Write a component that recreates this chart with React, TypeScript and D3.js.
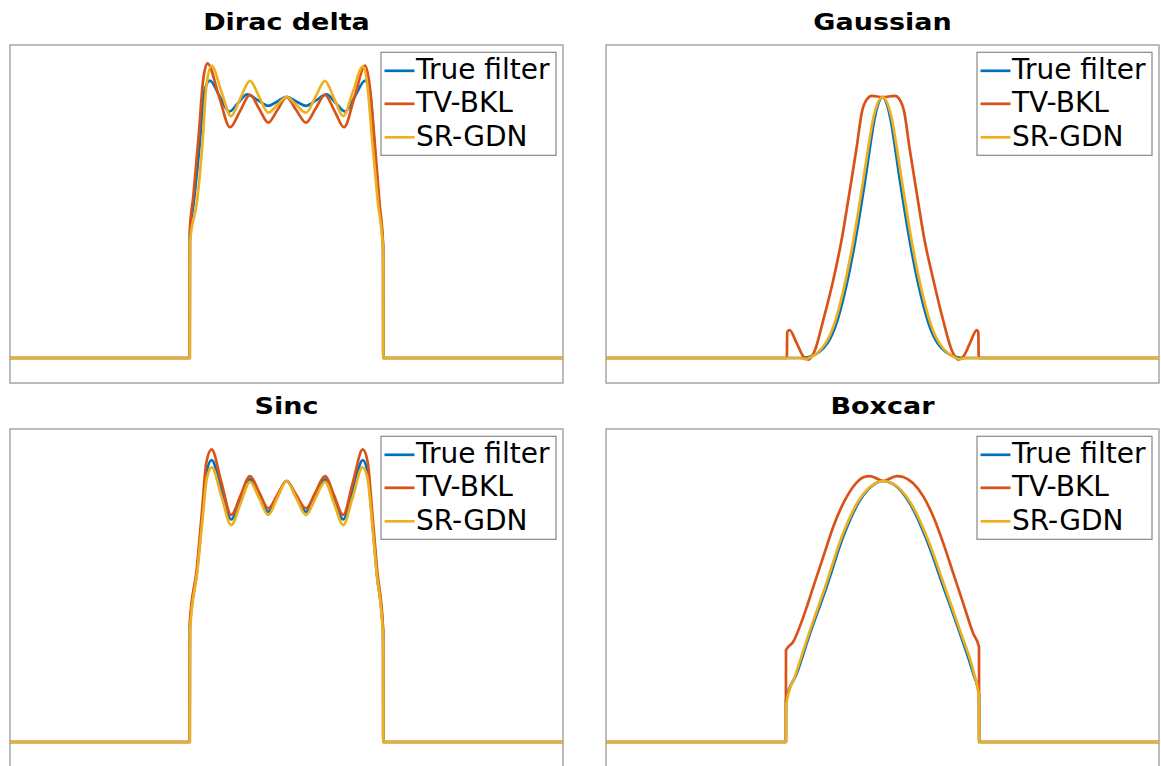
import React from "react";
import * as d3 from "d3";

type Pt = [number, number];

const seriesNames = ["True filter", "TV-BKL", "SR-GDN"];
const seriesColors = ["#0072BD", "#D95319", "#EDB120"];
const panelTitles = ["Dirac delta", "Gaussian", "Sinc", "Boxcar"];

const diracTrue: Pt[] = [[-1,0],[-0.35,0],[-0.3495,0.47],[-0.335,0.6],[-0.313,0.83],[-0.298,1.02],[-0.277,1.063],[-0.242,1.003],[-0.207,0.944],[-0.175,0.977],[-0.142,1.010],[-0.104,0.988],[-0.066,0.966],[-0.033,0.983],[0,1.001],[0.035,0.983],[0.0705,0.966],[0.108,0.988],[0.145,1.010],[0.178,0.977],[0.212,0.944],[0.248,1.003],[0.284,1.063],[0.302,1.02],[0.317,0.83],[0.335,0.58],[0.3495,0.42],[0.35,0],[1,0]];
const diracTV: Pt[] = [[-1,0],[-0.35,0],[-0.3495,0.49],[-0.337,0.62],[-0.317,0.86],[-0.302,1.06],[-0.286,1.129],[-0.245,1.006],[-0.204,0.884],[-0.168,0.946],[-0.132,1.008],[-0.099,0.955],[-0.066,0.902],[-0.033,0.95],[0,0.999],[0.035,0.95],[0.0705,0.902],[0.105,0.955],[0.139,1.008],[0.174,0.946],[0.208,0.884],[0.246,1.0],[0.284,1.12],[0.3,1.05],[0.318,0.84],[0.336,0.6],[0.3495,0.43],[0.35,0],[1,0]];
const diracSR: Pt[] = [[-1,0],[-0.35,0],[-0.3495,0.44],[-0.323,0.605],[-0.303,0.835],[-0.29,1.04],[-0.271,1.119],[-0.236,1.023],[-0.201,0.927],[-0.167,0.995],[-0.132,1.062],[-0.099,1.001],[-0.066,0.940],[-0.033,0.97],[0,1.0],[0.035,0.97],[0.0705,0.94],[0.105,1.001],[0.139,1.062],[0.172,0.995],[0.205,0.927],[0.24,1.02],[0.276,1.116],[0.293,1.04],[0.31,0.83],[0.33,0.6],[0.3495,0.41],[0.35,0],[1,0]];

const gaussTrue: Pt[] = [[-1,0],[-0.29,0],[-0.26,0.006],[-0.23,0.022],[-0.2,0.055],[-0.18,0.095],[-0.16,0.155],[-0.14,0.235],[-0.12,0.33],[-0.1,0.44],[-0.08,0.565],[-0.06,0.70],[-0.045,0.81],[-0.03,0.91],[-0.015,0.975],[0,1.0],[0.015,0.975],[0.03,0.91],[0.045,0.81],[0.06,0.70],[0.08,0.565],[0.1,0.44],[0.12,0.33],[0.14,0.235],[0.16,0.155],[0.18,0.095],[0.2,0.055],[0.23,0.022],[0.26,0.006],[0.29,0],[1,0]];
const gaussTV: Pt[] = [[-1,0],[-0.346,0],[-0.3445,0.1],[-0.336,0.107],[-0.31,0.056],[-0.286,0.005],[-0.268,-0.006],[-0.244,0.031],[-0.214,0.146],[-0.178,0.299],[-0.148,0.452],[-0.118,0.644],[-0.093,0.81],[-0.075,0.94],[-0.057,0.99],[-0.039,1.004],[0,1.0],[0.045,1.004],[0.062,0.99],[0.079,0.94],[0.097,0.81],[0.122,0.644],[0.152,0.452],[0.184,0.299],[0.219,0.146],[0.25,0.031],[0.274,-0.006],[0.292,0.005],[0.316,0.056],[0.341,0.107],[0.3465,0.1],[0.348,0],[1,0]];
const gaussSR: Pt[] = [[-1,0],[-0.3,0],[-0.28,-0.004],[-0.262,0.002],[-0.235,0.02],[-0.207,0.055],[-0.187,0.095],[-0.167,0.155],[-0.147,0.235],[-0.127,0.33],[-0.107,0.44],[-0.087,0.565],[-0.067,0.70],[-0.051,0.81],[-0.035,0.91],[-0.018,0.975],[0,1.0],[0.018,0.975],[0.035,0.91],[0.051,0.81],[0.067,0.70],[0.087,0.565],[0.107,0.44],[0.127,0.33],[0.147,0.235],[0.167,0.155],[0.187,0.095],[0.207,0.055],[0.235,0.02],[0.262,0.002],[0.28,-0.004],[0.3,0],[1,0]];

const sincTrue: Pt[] = [[-1,0],[-0.35,0],[-0.3495,0.44],[-0.323,0.659],[-0.305,0.86],[-0.29,1.03],[-0.271,1.080],[-0.2355,0.967],[-0.2,0.853],[-0.166,0.93],[-0.132,1.006],[-0.099,0.944],[-0.066,0.882],[-0.033,0.94],[0,1.001],[0.035,0.94],[0.0705,0.882],[0.105,0.944],[0.139,1.006],[0.172,0.93],[0.205,0.853],[0.24,0.967],[0.276,1.08],[0.294,1.03],[0.309,0.86],[0.327,0.64],[0.3495,0.42],[0.35,0],[1,0]];
const sincTV: Pt[] = [[-1,0],[-0.35,0],[-0.3495,0.46],[-0.325,0.659],[-0.306,0.88],[-0.29,1.07],[-0.271,1.121],[-0.2355,0.995],[-0.2,0.870],[-0.166,0.945],[-0.132,1.019],[-0.099,0.957],[-0.066,0.895],[-0.033,0.947],[0,1.0],[0.035,0.947],[0.0705,0.895],[0.105,0.957],[0.139,1.019],[0.172,0.945],[0.205,0.870],[0.24,0.995],[0.276,1.121],[0.294,1.07],[0.31,0.88],[0.328,0.659],[0.3495,0.43],[0.35,0],[1,0]];
const sincSR: Pt[] = [[-1,0],[-0.35,0],[-0.3495,0.42],[-0.322,0.659],[-0.303,0.86],[-0.288,1.01],[-0.27,1.052],[-0.235,0.94],[-0.2,0.831],[-0.166,0.914],[-0.132,0.997],[-0.099,0.934],[-0.066,0.870],[-0.033,0.935],[0,1.0],[0.035,0.935],[0.0705,0.870],[0.105,0.934],[0.139,0.997],[0.172,0.914],[0.205,0.831],[0.24,0.94],[0.275,1.052],[0.293,1.01],[0.308,0.86],[0.325,0.659],[0.3495,0.4],[0.35,0],[1,0]];

const boxTrue: Pt[] = [[-1,0],[-0.3495,0],[-0.349,0.16],[-0.31,0.263],[-0.262,0.416],[-0.202,0.595],[-0.142,0.787],[-0.081,0.927],[-0.033,0.985],[0,1.0],[0.039,0.988],[0.099,0.914],[0.16,0.774],[0.22,0.595],[0.28,0.416],[0.328,0.263],[0.349,0.18],[0.3495,0],[1,0]];
const boxTV: Pt[] = [[-1,0],[-0.3495,0],[-0.349,0.352],[-0.323,0.384],[-0.286,0.48],[-0.25,0.595],[-0.214,0.71],[-0.178,0.825],[-0.142,0.914],[-0.106,0.978],[-0.069,1.014],[-0.045,1.019],[0.003,1.0],[0.051,1.019],[0.075,1.015],[0.111,0.991],[0.148,0.94],[0.184,0.863],[0.22,0.761],[0.256,0.646],[0.292,0.531],[0.328,0.416],[0.349,0.365],[0.3495,0],[1,0]];
const boxSR: Pt[] = [[-1,0],[-0.3495,0],[-0.349,0.14],[-0.313,0.263],[-0.266,0.416],[-0.207,0.595],[-0.147,0.787],[-0.085,0.927],[-0.035,0.985],[0,1.0],[0.041,0.988],[0.103,0.914],[0.165,0.774],[0.225,0.595],[0.284,0.416],[0.331,0.263],[0.349,0.17],[0.3495,0],[1,0]];

const panelSeries: Pt[][][] = [
  [diracTrue, diracTV, diracSR],
  [gaussTrue, gaussTV, gaussSR],
  [sincTrue, sincTV, sincSR],
  [boxTrue, boxTV, boxSR],
];

const xDomain: [number, number] = [-1, 1];
const yDomain: [number, number] = [-0.0958, 1.1992];

const W = 1161;
const H = 766;
const boxW = 553;
const boxH = 338;
const boxLefts = [10, 606];
const boxTops = [45, 429];
const FONT = "'DejaVu Sans', Verdana, sans-serif";

function Panel({ idx }: { idx: number }) {
  const col = idx % 2;
  const row = Math.floor(idx / 2);
  const x0 = boxLefts[col];
  const y0 = boxTops[row];
  const xs = d3.scaleLinear().domain(xDomain).range([x0, x0 + boxW]);
  const ys = d3.scaleLinear().domain(yDomain).range([y0 + boxH, y0]);
  const line = d3
    .line<Pt>()
    .x((d) => xs(d[0]))
    .y((d) => ys(d[1]))
    .curve(d3.curveMonotoneX);
  const clipId = `clip${idx}`;
  const lgW = 175;
  const lgH = 103;
  const lgX = x0 + boxW - 7 - lgW;
  const lgY = y0 + 7.3;
  const rowOff = [18.5, 51.5, 85];
  return (
    <g>
      <defs>
        <clipPath id={clipId}>
          <rect x={x0} y={y0} width={boxW} height={boxH} />
        </clipPath>
      </defs>
      <rect x={x0} y={y0} width={boxW} height={boxH} fill="#fff" stroke="#999" strokeWidth={1.3} />
      <g clipPath={`url(#${clipId})`}>
        {panelSeries[idx].map((s, i) => (
          <path key={i} d={line(s) || ""} fill="none" stroke={seriesColors[i]} strokeWidth={2.7} strokeLinejoin="round" />
        ))}
      </g>
      <text
        transform={`translate(${x0 + boxW / 2},${y0 - 15.5}) scale(1,0.86)`}
        textAnchor="middle"
        fontFamily={FONT}
        fontWeight="bold"
        fontSize={27}
        fill="#000"
      >
        {panelTitles[idx]}
      </text>
      <rect x={lgX} y={lgY} width={lgW} height={lgH} fill="#fff" stroke="#888" strokeWidth={1.2} />
      {seriesNames.map((n, i) => (
        <g key={n}>
          <line x1={lgX + 3.5} x2={lgX + 33.5} y1={lgY + rowOff[i]} y2={lgY + rowOff[i]} stroke={seriesColors[i]} strokeWidth={2.7} />
          <text x={lgX + 35} y={lgY + rowOff[i] + 8.5} fontFamily={FONT} fontSize={28} fill="#000">
            {n}
          </text>
        </g>
      ))}
    </g>
  );
}

export default function App() {
  return (
    <svg width={W} height={H} style={{ position: "fixed", left: 0, top: 0, background: "#fff" }}>
      <rect x={0} y={0} width={W} height={H} fill="#fff" />
      {[0, 1, 2, 3].map((i) => (
        <Panel key={i} idx={i} />
      ))}
    </svg>
  );
}
